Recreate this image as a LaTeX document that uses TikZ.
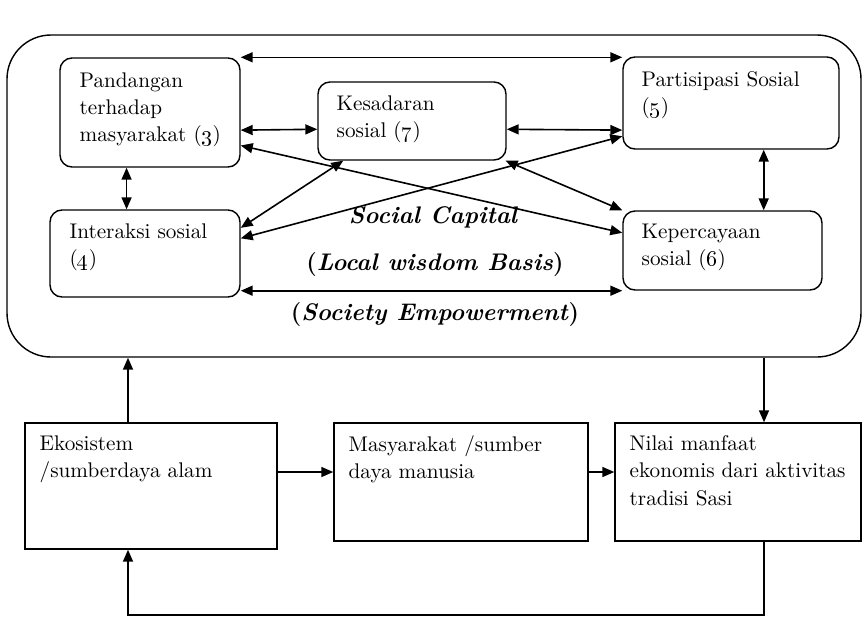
\documentclass[tikz,border=0pt]{standalone}
\usetikzlibrary{arrows.meta}

\begin{document}
\begin{tikzpicture}[x=0.5pt,y=-0.5pt]
\tikzstyle{box}=[draw, line width=0.7pt, rounded corners=6pt, inner sep=0pt]
\tikzstyle{sqbox}=[draw, line width=0.7pt, inner sep=0pt]
\tikzstyle{txt}=[inner sep=0pt, anchor=north west, align=left,
	font=\fontsize{10.6}{13.6}\selectfont]
\tikzstyle{caption}=[inner sep=0pt, font=\fontsize{12}{14}\selectfont\bfseries]
\tikzstyle{arr}=[line width=0.8pt, -{Triangle[length=6pt,width=5pt]}]
\tikzstyle{darr}=[line width=0.8pt,
	{Triangle[length=6pt,width=5pt]}-{Triangle[length=6pt,width=5pt]}]
\useasboundingbox (0,0) rectangle (867,616);
% social capital frame
\node[draw, line width=0.7pt, rounded corners=22pt,
	minimum width=427pt, minimum height=161pt] (out) at (434,196) {};
\node[box, minimum width=90pt, minimum height=54.5pt] (p3) at (150,112.5) {};
\node[box, minimum width=95pt, minimum height=43.5pt] (p4) at (145,253.5) {};
\node[box, minimum width=94pt, minimum height=39pt] (p7) at (412,121) {};
\node[box, minimum width=108pt, minimum height=46pt] (p5) at (731,103) {};
\node[box, minimum width=99.5pt, minimum height=39.5pt] (p6) at (722.5,250.5) {};
\node[txt] at ([shift={(20,15)}]p3.north west)
	{Pandangan\\terhadap\\masyarakat (\oldstylenums{3})};
\node[txt] at ([shift={(19,14)}]p7.north west) {Kesadaran\\sosial (\oldstylenums{7})};
\node[txt] at ([shift={(19,15)}]p5.north west) {Partisipasi Sosial\\(\oldstylenums{5})};
\node[txt] at ([shift={(20,14)}]p4.north west) {Interaksi sosial\\(\oldstylenums{4})};
\node[txt] at ([shift={(19,13)}]p6.north west) {Kepercayaan\\sosial (\oldstylenums{6})};
\node[caption] (sc) at (433,217) {\itshape Social Capital};
\node[caption] (lw) at (435,265) {(\textit{Local wisdom Basis})};
\node[caption] (se) at (435,315) {(\textit{Society Empowerment})};
% links inside the frame
\draw[darr] (p3.north east) -- (p3.north east -| p5.west);
\draw[darr] (p3.-11) -- (p7.185.5);
\draw[darr] (p7.-5.5) -- (p5.194);
\draw[darr] (p3.-20) -- (p6.170);
\draw[darr] (p4.9) -- (p5.197);
\draw[darr] (p4.15) -- (p7.210);
\draw[darr] (p7.-23) -- (p6.north west);
\draw[darr] (p4.east |- p6.south west) -- (p6.south west);
\draw[darr] (p3.247) -- (p3.247 |- p4.north);
\draw[darr] (p5.-55) -- (p5.-55 |- p6.north);
% lower row
\node[sqbox, minimum width=126pt, minimum height=63pt] (eko) at (151,486) {};
\node[sqbox, minimum width=127pt, minimum height=59pt] (mas) at (461,482) {};
\node[sqbox, minimum width=123pt, minimum height=59pt] (nil) at (738,482) {};
\node[txt] at ([shift={(15,13)}]eko.north west) {Ekosistem\\/sumberdaya alam};
\node[txt] at ([shift={(15,13)}]mas.north west) {Masyarakat /sumber\\daya manusia};
\node[txt] at ([shift={(15,13)}]nil.north west)
	{Nilai manfaat\\ekonomis dari aktivitas\\tradisi Sasi};
\draw[arr] ([xshift=-11.5pt]eko.north) -- ([xshift=-11.5pt]eko.north |- out.south);
\draw[arr] ([xshift=13pt]nil.north |- out.south) -- ([xshift=13pt]nil.north);
\draw[arr] ([yshift=5pt]eko.east |- mas.west) -- ([yshift=5pt]mas.west);
\draw[arr] ([yshift=5pt]mas.east) -- ([yshift=5pt]nil.west);
\draw[arr] ([xshift=13pt]nil.south) -- ++(0,73) -| ([xshift=-11.5pt]eko.south);
\end{tikzpicture}
\end{document}
